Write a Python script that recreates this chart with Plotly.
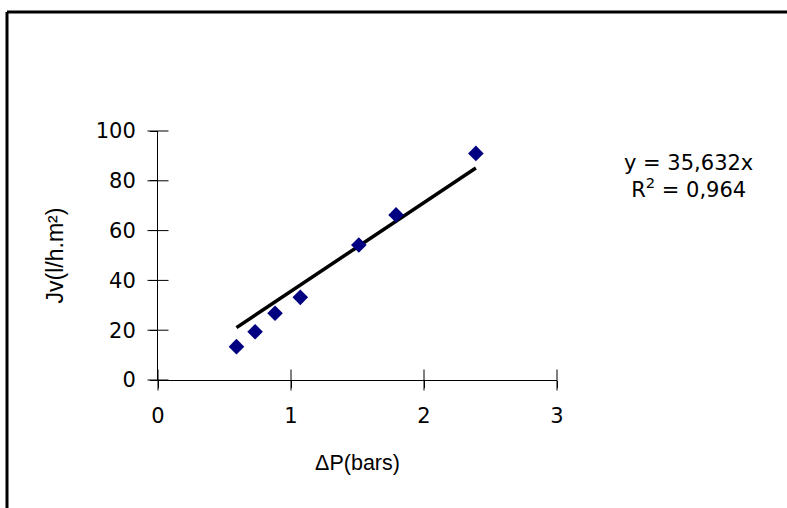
import plotly.graph_objects as go

# Data
dp_bars = [0.59, 0.73, 0.88, 1.07, 1.51, 1.79, 2.39]
jv = [13.4, 19.4, 26.8, 33.2, 54.2, 66.3, 91.0]
slope = 35.632
r2_label = "0,964"
slope_label = "35,632"
x_ticks = [0, 1, 2, 3]
y_ticks = [0, 20, 40, 60, 80, 100]

TITLE_FONT = "Liberation Sans, Arial, sans-serif"
NUM_FONT = "DejaVu Sans, Liberation Sans, sans-serif"
FS_XTITLE = 21.5
FS_YTITLE = 23
FS_NUM = 21

trend_x = [min(dp_bars), max(dp_bars)]
trend_y = [slope * v for v in trend_x]

fig = go.Figure()
fig.add_trace(go.Scatter(x=trend_x, y=trend_y, mode="lines",
                         line=dict(color="black", width=3.5), showlegend=False,
                         hoverinfo="skip"))
fig.add_trace(go.Scatter(x=dp_bars, y=jv, mode="markers",
                         marker=dict(symbol="diamond", size=12, color="#000080",
                                     line=dict(width=0)),
                         showlegend=False))
# crossing tick marks (inside part of each tick)
fig.add_trace(go.Scatter(x=x_ticks, y=[0] * len(x_ticks), mode="markers",
                         marker=dict(symbol="line-ns", size=15,
                                     line=dict(color="black", width=1)),
                         cliponaxis=False, showlegend=False, hoverinfo="skip"))
fig.add_trace(go.Scatter(x=[0] * len(y_ticks), y=y_ticks, mode="markers",
                         marker=dict(symbol="line-ew", size=15,
                                     line=dict(color="black", width=1)),
                         cliponaxis=False, showlegend=False, hoverinfo="skip"))

W, H = 787, 508
L, R, T, B = 158, 230, 131, 128

common = dict(showgrid=False, zeroline=False, showline=True, linecolor="black",
              linewidth=1, tickcolor="black", tickwidth=1, ticklen=7,
              ticks="outside", automargin=False,
              tickfont=dict(family=NUM_FONT, size=FS_NUM, color="black"))

fig.update_layout(
    width=W, height=H,
    margin=dict(l=L, r=R, t=T, b=B, autoexpand=False),
    paper_bgcolor="white", plot_bgcolor="white",
    font=dict(family=TITLE_FONT, size=FS_XTITLE, color="black"),
    xaxis=dict(range=[0, 3], tickvals=x_ticks, ticklabelstandoff=10,
               title=dict(text="ΔP(bars)", standoff=27,
                          font=dict(family=TITLE_FONT, size=FS_XTITLE)),
               **common),
    yaxis=dict(range=[0, 100], tickvals=y_ticks, ticklabelstandoff=10,
               title=dict(text="Jv(l/h.m²)", standoff=25,
                          font=dict(family=TITLE_FONT, size=FS_YTITLE)),
               **common),
    annotations=[dict(
        text=f"y = {slope_label}x<br>R<sup>2</sup> = {r2_label}",
        x=(688 - L) / (W - L - R), y=(H - B - 176) / (H - T - B),
        xref="paper", yref="paper", showarrow=False,
        xanchor="center", yanchor="middle", align="center",
        font=dict(family=NUM_FONT, size=FS_NUM, color="black"))],
    shapes=[
        dict(type="line", xref="paper", yref="paper",
             x0=(7 - L) / (W - L - R), x1=(7 - L) / (W - L - R),
             y0=(H - B - 12) / (H - T - B), y1=-1.0,
             line=dict(color="black", width=3)),
        dict(type="line", xref="paper", yref="paper",
             x0=(7 - L) / (W - L - R), x1=2.0,
             y0=(H - B - 12) / (H - T - B), y1=(H - B - 12) / (H - T - B),
             line=dict(color="black", width=3)),
    ],
)

fig.write_html("out.html")
